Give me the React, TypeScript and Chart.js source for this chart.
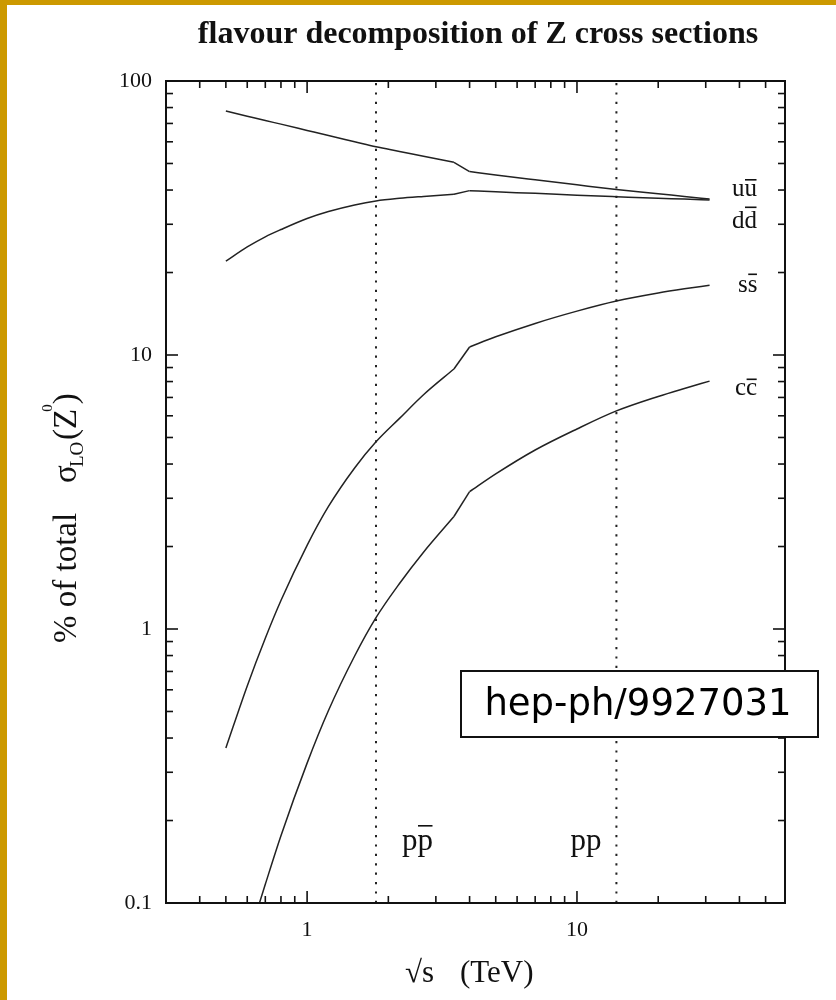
import React, { useEffect, useRef } from 'react';
import { Chart, registerables } from 'chart.js';

Chart.register(...registerables);

// ---- data ----
const energies = [0.5, 0.6, 0.7, 0.8, 1.0, 1.2, 1.5, 1.8, 2.2, 2.7, 3.5, 4.0, 5, 7, 10, 14, 20, 25, 31];
const uuBar = [77.7, 74.4, 71.7, 69.6, 66.0, 63.2, 60.0, 57.5, 55.3, 53.1, 50.5, 46.7, 45.4, 43.6, 41.8, 40.2, 38.8, 37.9, 37.1];
const ddBar = [22.0, 24.8, 27.0, 28.7, 31.5, 33.4, 35.3, 36.5, 37.3, 37.9, 38.6, 39.8, 39.4, 38.9, 38.3, 37.8, 37.3, 37.1, 36.8];
const ssBar = [0.368, 0.620, 0.925, 1.27, 2.02, 2.80, 3.87, 4.82, 5.87, 7.16, 8.89, 10.7, 11.65, 13.04, 14.46, 15.74, 16.84, 17.44, 17.97];
const ccBar = [0.04, 0.072, 0.117, 0.176, 0.324, 0.504, 0.797, 1.10, 1.466, 1.907, 2.574, 3.17, 3.68, 4.50, 5.37, 6.25, 7.06, 7.55, 8.03];

// the curves switch from p-pbar to pp between these two energies (sharp kink)
const kinkLow = 3.5;
const kinkHigh = 4.0;

const colliderEnergies = [1.8, 14];
const colliderNames = ['pp̄', 'pp'];

const xMajorTicks = [1, 10];
const xMinorTicks = [0.4, 0.5, 0.6, 0.7, 0.8, 0.9, 2, 3, 4, 5, 6, 7, 8, 9, 20, 30, 40, 50];
const yMajorTicks = [0.1, 1, 10, 100];
const yMinorTicks = [0.2, 0.3, 0.4, 0.5, 0.6, 0.7, 0.8, 0.9, 2, 3, 4, 5, 6, 7, 8, 9, 20, 30, 40, 50, 60, 70, 80, 90];

const X_MIN = 0.3;
const X_MAX = 59;
const Y_MIN = 0.1;
const Y_MAX = 100;

const SERIF = '"Liberation Serif", "Times New Roman", serif';
const SANS = '"DejaVu Sans", Verdana, sans-serif';
const INK = '#111';
const GOLD = '#CC9900';

function barText(ctx: CanvasRenderingContext2D, x: number, y: number, first: string, second: string, size: number, barRise: number) {
  ctx.font = `${size}px ${SERIF}`;
  ctx.textAlign = 'left';
  ctx.textBaseline = 'alphabetic';
  ctx.fillText(first, x, y);
  const w1 = ctx.measureText(first).width;
  ctx.fillText(second, x + w1, y);
  const w2 = ctx.measureText(second).width;
  ctx.fillRect(x + w1 + 0.5, y - barRise, w2 - 1, 1.6);
}

const decorPlugin = {
  id: 'decor',
  afterDraw(chart: any) {
    const { ctx, chartArea: a, scales } = chart;
    const xs = scales.x;
    const ys = scales.y;
    const X = (v: number) => xs.getPixelForValue(v);
    const Y = (v: number) => ys.getPixelForValue(v);
    ctx.save();
    ctx.strokeStyle = INK;
    ctx.fillStyle = INK;

    // frame
    ctx.lineWidth = 2;
    ctx.strokeRect(a.left, a.top, a.right - a.left, a.bottom - a.top);

    // ticks on all four sides, pointing inward
    ctx.lineWidth = 1.6;
    const seg = (x1: number, y1: number, x2: number, y2: number) => {
      ctx.beginPath();
      ctx.moveTo(x1, y1);
      ctx.lineTo(x2, y2);
      ctx.stroke();
    };
    const xt = (vals: number[], len: number) => vals.forEach((v) => {
      const p = X(v);
      seg(p, a.bottom, p, a.bottom - len);
      seg(p, a.top, p, a.top + len);
    });
    const yt = (vals: number[], len: number) => vals.forEach((v) => {
      const p = Y(v);
      seg(a.left, p, a.left + len, p);
      seg(a.right, p, a.right - len, p);
    });
    xt(xMinorTicks, 7);
    xt(xMajorTicks, 12);
    yt(yMinorTicks, 7);
    yt(yMajorTicks, 12);

    // title
    ctx.textAlign = 'center';
    ctx.textBaseline = 'alphabetic';
    ctx.font = `bold 32px ${SERIF}`;
    ctx.fillText('flavour decomposition of Z cross sections', 478, 43);

    // x axis title
    ctx.font = `31px ${SERIF}`;
    ctx.textAlign = 'left';
    ctx.fillText('√s', 405, 982);
    ctx.fillText('(TeV)', 460, 982);

    // y axis title (rotated)
    ctx.save();
    ctx.translate(76, 643);
    ctx.rotate(-Math.PI / 2);
    ctx.font = `33px ${SERIF}`;
    ctx.fillText('% of total', 0, 0);
    ctx.fillText('σ', 160, 0);
    ctx.font = `19px ${SERIF}`;
    ctx.fillText('LO', 176, 7);
    let cx = 203;
    ctx.font = `33px ${SERIF}`;
    ctx.fillText('(Z', cx, 0);
    cx += ctx.measureText('(Z').width - 3;
    ctx.font = `15px ${SERIF}`;
    ctx.fillText('0', cx, -24);
    cx += ctx.measureText('0').width;
    ctx.font = `33px ${SERIF}`;
    ctx.fillText(')', cx, 0);
    ctx.restore();

    // curve labels
    barText(ctx, 732, 196, 'u', 'u', 25, 17);
    barText(ctx, 732, 228, 'd', 'd', 25, 21.5);
    barText(ctx, 738, 292, 's', 's', 25, 18.5);
    barText(ctx, 735, 395, 'c', 'c', 25, 16.5);

    // collider labels, placed beside their dotted lines
    const base = 850;
    barText(ctx, X(colliderEnergies[0]) + 26, base, 'p', 'p', 31, 25);
    ctx.font = `31px ${SERIF}`;
    ctx.textAlign = 'right';
    ctx.fillText(colliderNames[1], X(colliderEnergies[1]) - 15, base);

    // reference box
    ctx.textAlign = 'left';
    ctx.fillStyle = '#fff';
    ctx.fillRect(461, 671, 357, 66);
    ctx.lineWidth = 2;
    ctx.strokeStyle = INK;
    ctx.strokeRect(461, 671, 357, 66);
    ctx.fillStyle = '#000';
    ctx.font = `37px ${SANS}`;
    ctx.textAlign = 'center';
    ctx.textBaseline = 'middle';
    ctx.fillText('hep-ph/9927031', 638, 705);

    ctx.restore();
  },
};

export default function App() {
  const ref = useRef<HTMLCanvasElement | null>(null);

  useEffect(() => {
    document.body.style.margin = '0';
    const canvas = ref.current;
    if (!canvas) return;
    const pts = (vals: number[]) => energies.map((e, i) => ({ x: e, y: vals[i] }));
    const lineStyle = {
      borderColor: '#222',
      borderWidth: 1.5,
      pointRadius: 0,
      fill: false,
    };
    // each curve: smooth below the kink, straight kink segment, smooth above
    const curveSets = (name: string, vals: number[]) => {
      const p = pts(vals);
      return [
        { label: name + ' low', data: p.filter((q) => q.x <= kinkLow), ...lineStyle, cubicInterpolationMode: 'monotone' },
        { label: name + ' kink', data: p.filter((q) => q.x >= kinkLow && q.x <= kinkHigh), ...lineStyle, tension: 0 },
        { label: name + ' high', data: p.filter((q) => q.x >= kinkHigh), ...lineStyle, cubicInterpolationMode: 'monotone' },
      ];
    };
    const dotted = (e: number) => ({
      data: [{ x: e, y: Y_MIN }, { x: e, y: Y_MAX }],
      borderColor: '#222',
      borderWidth: 2,
      borderDash: [2.2, 7.2],
      pointRadius: 0,
      fill: false,
    });
    const chart = new Chart(canvas, {
      type: 'line',
      data: {
        datasets: [
          ...curveSets('uu', uuBar),
          ...curveSets('dd', ddBar),
          ...curveSets('ss', ssBar),
          ...curveSets('cc', ccBar),
          ...colliderEnergies.map((e) => ({ label: 'sqrt s ' + e, ...dotted(e) })),
        ] as any,
      },
      options: {
        responsive: false,
        animation: false,
        events: [],
        layout: { padding: { top: 81, right: 51, left: 0, bottom: 0 } },
        plugins: {
          legend: { display: false },
          tooltip: { enabled: false },
        },
        scales: {
          x: {
            type: 'logarithmic',
            position: 'bottom',
            min: X_MIN,
            max: X_MAX,
            grid: { display: false, drawTicks: false },
            border: { display: false },
            ticks: {
              autoSkip: false,
              maxRotation: 0,
              padding: 14,
              color: INK,
              font: { family: SERIF, size: 22 },
              callback: (v: any) => String(v),
            },
            afterBuildTicks: (s: any) => {
              s.ticks = xMajorTicks.map((v) => ({ value: v }));
            },
            afterFit: (s: any) => {
              s.height = 97;
            },
          },
          y: {
            type: 'logarithmic',
            position: 'left',
            min: Y_MIN,
            max: Y_MAX,
            grid: { display: false, drawTicks: false },
            border: { display: false },
            ticks: {
              autoSkip: false,
              padding: 14,
              color: INK,
              font: { family: SERIF, size: 22 },
              callback: (v: any) => String(v),
            },
            afterBuildTicks: (s: any) => {
              s.ticks = yMajorTicks.map((v) => ({ value: v }));
            },
            afterFit: (s: any) => {
              s.width = 166;
            },
          },
        },
      } as any,
      plugins: [decorPlugin],
    });
    return () => chart.destroy();
  }, []);

  return (
    <div style={{ position: 'absolute', left: 0, top: 0, width: 836, height: 1000, background: '#fff', overflow: 'hidden' }}>
      <div style={{ position: 'absolute', left: 0, top: 0, width: 836, height: 5, background: GOLD }} />
      <div style={{ position: 'absolute', left: 0, top: 0, width: 7, height: 1000, background: GOLD }} />
      <canvas ref={ref} width={836} height={1000} style={{ position: 'absolute', left: 0, top: 0, width: 836, height: 1000 }} />
    </div>
  );
}
